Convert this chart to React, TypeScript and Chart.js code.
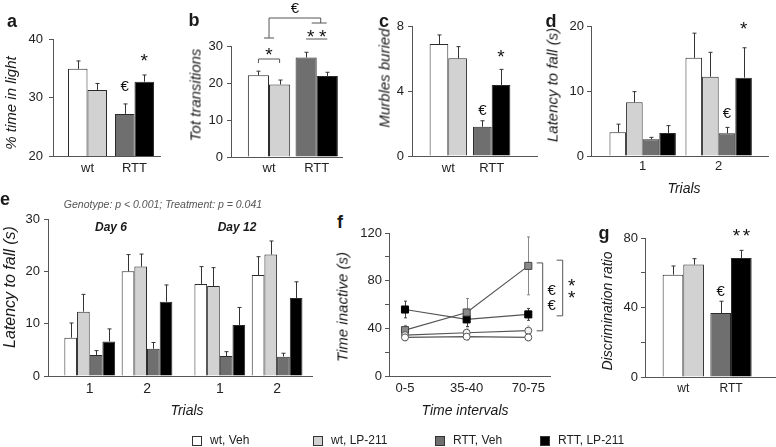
import React, { useEffect, useRef } from 'react';
import { Chart, registerables } from 'chart.js';

Chart.register(...registerables);

const FONT = '"Liberation Sans", Arial, Helvetica, sans-serif';
Chart.defaults.font.family = FONT;

// colours
const C_WT_VEH = '#ffffff';
const C_WT_LP = '#d2d2d2';
const C_RTT_VEH = '#6f6f6f';
const C_RTT_LP = '#000000';

// labels
const genotypes = ['wt', 'RTT'];
const trials = ['1', '2'];
const days = ['Day 6', 'Day 12'];
const intervals = ['0-5', '35-40', '70-75'];
const legendLabels = ['wt, Veh', 'wt, LP-211', 'RTT, Veh', 'RTT, LP-211'];

// panel a: % time in light  [wt, RTT]
const aVeh = [34.9, 27.2];
const aVehSem = [1.35, 1.7];
const aLP = [31.3, 32.7];
const aLPSem = [1.1, 1.15];

// panel b: total transitions
const bVeh = [22.1, 26.9];
const bVehSem = [1.1, 1.4];
const bLP = [19.6, 21.9];
const bLPSem = [1.2, 1.0];

// panel c: marbles buried
const cVeh = [6.89, 1.8];
const cVehSem = [0.56, 0.37];
const cLP = [6.01, 4.37];
const cLPSem = [0.72, 0.96];

// panel d: latency to fall, trials 1,2
const dWtVeh = [3.65, 15.1];
const dWtVehSem = [1.25, 3.8];
const dWtLP = [8.26, 12.2];
const dWtLPSem = [1.64, 3.75];
const dRttVeh = [2.56, 3.5];
const dRttVehSem = [0.31, 0.9];
const dRttLP = [3.54, 12.05];
const dRttLPSem = [1.13, 4.6];

// panel e: latency to fall, [Day6 T1, Day6 T2, Day12 T1, Day12 T2]
const eWtVeh = [7.33, 20.0, 17.6, 19.3];
const eWtVehSem = [2.8, 3.2, 3.3, 3.5];
const eWtLP = [12.3, 20.9, 17.2, 23.2];
const eWtLPSem = [3.3, 2.4, 3.5, 2.6];
const eRttVeh = [4.0, 5.2, 3.8, 3.7];
const eRttVehSem = [0.85, 1.2, 0.85, 0.65];
const eRttLP = [6.6, 14.2, 9.75, 14.9];
const eRttLPSem = [2.4, 3.2, 3.35, 3.1];

// panel f: time inactive over intervals
const fWtVeh = [32.4, 33.0, 32.4];
const fWtVehSem = [3, 3, 3];
const fWtLP = [34.3, 36.3, 38.0];
const fWtLPSem = [3, 4, 4];
const fRttVeh = [38.5, 53.3, 92.4];
const fRttVehSem = [4, 11.7, 24.3];
const fRttLP = [55.8, 47.5, 51.7];
const fRttLPSem = [7, 6, 5];

// panel g: discrimination ratio
const gVeh = [58.9, 36.8];
const gVehSem = [5.0, 6.8];
const gLP = [64.7, 68.5];
const gLPSem = [3.4, 4.4];

// ---------- drawing helpers ----------
const bx = (c: any, di: number, i: number) => c.getDatasetMeta(di).data[i].x;
const vy = (c: any, v: number) => c.scales.y.getPixelForValue(v);
const errTop = (c: any, di: number, i: number) => {
  const ds = c.data.datasets[di];
  return vy(c, ds.data[i].y + ds.sem[i]);
};
function glyph(ctx: any, s: string, x: number, cy: number, size: number, k: number) {
  ctx.save();
  ctx.font = `${size}px ${FONT}`;
  ctx.textAlign = 'center';
  ctx.textBaseline = 'alphabetic';
  ctx.fillStyle = '#111';
  ctx.fillText(s, x, cy + k * size);
  ctx.restore();
}
const star = (ctx: any, x: number, cy: number, size = 19) => glyph(ctx, '*', x, cy, size, 0.57);
const euro = (ctx: any, x: number, cy: number, size = 15) => glyph(ctx, '€', x, cy, size, 0.36);
function poly(ctx: any, pts: number[][], color = '#555') {
  ctx.save();
  ctx.strokeStyle = color;
  ctx.lineWidth = 1;
  ctx.beginPath();
  pts.forEach((p, i) => (i ? ctx.lineTo(p[0], p[1]) : ctx.moveTo(p[0], p[1])));
  ctx.stroke();
  ctx.restore();
}

const barErrPlugin = {
  id: 'barErr',
  afterDatasetsDraw(c: any) {
    const ctx = c.ctx;
    c.data.datasets.forEach((ds: any, di: number) => {
      const meta = c.getDatasetMeta(di);
      meta.data.forEach((el: any, i: number) => {
        const yT = vy(c, ds.data[i].y + ds.sem[i]);
        const x = Math.round(el.x) + 0.5;
        ctx.save();
        ctx.strokeStyle = '#333';
        ctx.lineWidth = 1;
        ctx.beginPath();
        ctx.moveTo(x, el.y);
        ctx.lineTo(x, yT);
        ctx.moveTo(x - 2, yT);
        ctx.lineTo(x + 2, yT);
        ctx.stroke();
        ctx.restore();
      });
    });
  },
};

const annot = (fn?: (c: any) => void) => ({
  id: 'annot',
  afterDatasetsDraw(c: any) {
    if (fn) fn(c);
  },
});

type Pad = { PL: number; PT: number; PR: number; PB: number };

function yScale(pad: Pad, min: number, max: number, step: number, labelStep: number, tickPad: number) {
  return {
    min,
    max,
    beginAtZero: false,
    grid: { display: true, drawOnChartArea: false, drawTicks: true, tickLength: 4, color: '#555' },
    border: { display: true, color: '#555', width: 1 },
    afterFit: (s: any) => {
      s.width = pad.PL;
    },
    ticks: {
      stepSize: step,
      padding: tickPad,
      color: '#222',
      font: { family: FONT, size: 13 },
      callback: (v: number) => (Math.abs(v % labelStep) < 1e-6 ? String(v) : ''),
    },
  };
}

function xScale(pad: Pad, positions: number[], labels: string[], min: number, max: number, tickPad: number, size = 13) {
  return {
    type: 'linear',
    min,
    max,
    offset: false,
    grid: { display: false, drawTicks: false, offset: false },
    border: { display: true, color: '#555', width: 1 },
    afterBuildTicks: (s: any) => {
      s.ticks = positions.map((v) => ({ value: v }));
    },
    afterFit: (s: any) => {
      s.height = pad.PB;
    },
    ticks: {
      autoSkip: false,
      maxRotation: 0,
      padding: tickPad,
      color: '#222',
      font: { family: FONT, size },
      callback: (_v: number, i: number) => labels[i],
    },
  };
}

const baseOptions = (pad: Pad) => ({
  animation: false,
  responsive: false,
  devicePixelRatio: 1,
  events: [],
  layout: { padding: { left: 0, top: pad.PT, right: pad.PR, bottom: 0 } },
  plugins: { legend: { display: false }, tooltip: { enabled: false }, title: { display: false } },
});

type Series = { values: number[]; sem: number[]; colors: string[] | string };

function barConfig(
  pad: Pad,
  p: {
    positions: number[];
    labels: string[];
    xMin: number;
    xMax: number;
    yMin: number;
    yMax: number;
    yStep: number;
    yLabelStep: number;
    yTickPad: number;
    xTickPad: number;
    xFont?: number;
    catPct: number;
    series: Series[];
    annotate?: (c: any) => void;
  }
): any {
  return {
    type: 'bar',
    data: {
      datasets: p.series.map((s) => ({
        data: p.positions.map((x, i) => ({ x, y: s.values[i] })),
        sem: s.sem,
        backgroundColor: s.colors,
        borderColor: '#2a2a2a',
        borderWidth: 1,
        categoryPercentage: p.catPct,
        barPercentage: 1,
      })),
    },
    options: {
      ...baseOptions(pad),
      scales: {
        x: xScale(pad, p.positions, p.labels, p.xMin, p.xMax, p.xTickPad, p.xFont || 13),
        y: yScale(pad, p.yMin, p.yMax, p.yStep, p.yLabelStep, p.yTickPad),
      },
    },
    plugins: [barErrPlugin, annot(p.annotate)],
  };
}

// ---------- panel configs ----------
const gIdx = genotypes.map((_, i) => i);
const tIdx = trials.map((_, i) => i);
const ePositions = days.flatMap((_, di) => trials.map((_, ti) => di * 2.27 + ti));
const eLabels = days.flatMap(() => trials);

const buildA = (pad: Pad) =>
  barConfig(pad, {
    positions: gIdx, labels: genotypes, xMin: -0.734, xMax: 1.543,
    yMin: 20, yMax: 40, yStep: 10, yLabelStep: 10, yTickPad: 6, xTickPad: 5, catPct: 0.83,
    series: [
      { values: aVeh, sem: aVehSem, colors: [C_WT_VEH, C_RTT_VEH] },
      { values: aLP, sem: aLPSem, colors: [C_WT_LP, C_RTT_LP] },
    ],
    annotate: (c) => {
      euro(c.ctx, bx(c, 0, 1), errTop(c, 0, 1) - 18.5);
      star(c.ctx, bx(c, 1, 1), errTop(c, 1, 1) - 18.5);
    },
  });

const buildB = (pad: Pad) =>
  barConfig(pad, {
    positions: gIdx, labels: genotypes, xMin: -0.797, xMax: 1.53,
    yMin: 0, yMax: 30, yStep: 5, yLabelStep: 10, yTickPad: 4, xTickPad: 4, catPct: 0.887,
    series: [
      { values: bVeh, sem: bVehSem, colors: [C_WT_VEH, C_RTT_VEH] },
      { values: bLP, sem: bLPSem, colors: [C_WT_LP, C_RTT_LP] },
    ],
    annotate: (c) => {
      const ctx = c.ctx;
      const top = c.chartArea.top;
      const xw = bx(c, 0, 0), xl = bx(c, 1, 0), xd = bx(c, 0, 1), xk = bx(c, 1, 1);
      poly(ctx, [[xw, top + 17], [xw, top + 13], [xl, top + 13], [xl, top + 17]]);
      star(ctx, (xw + xl) / 2, top + 4);
      poly(ctx, [[xd, top - 7], [xk, top - 7]]);
      star(ctx, (xd + xk) / 2 - 6, top - 14);
      star(ctx, (xd + xk) / 2 + 6, top - 14);
      const gL = (xw + xl) / 2, gR = (xd + xk) / 2 + 4;
      poly(ctx, [[gL, top - 8], [gL, top - 28], [gR, top - 28], [gR, top - 23]]);
      poly(ctx, [[gL - 5, top - 8], [gL + 5, top - 8]]);
      poly(ctx, [[gR - 9, top - 23], [gR + 6, top - 23]]);
      euro(ctx, (gL + gR) / 2, top - 38);
    },
  });

const buildC = (pad: Pad) =>
  barConfig(pad, {
    positions: gIdx, labels: genotypes, xMin: -0.836, xMax: 2.044,
    yMin: 0, yMax: 8, yStep: 4, yLabelStep: 4, yTickPad: 4, xTickPad: 5, catPct: 0.86,
    series: [
      { values: cVeh, sem: cVehSem, colors: [C_WT_VEH, C_RTT_VEH] },
      { values: cLP, sem: cLPSem, colors: [C_WT_LP, C_RTT_LP] },
    ],
    annotate: (c) => {
      euro(c.ctx, bx(c, 0, 1), errTop(c, 0, 1) - 11);
      star(c.ctx, bx(c, 1, 1), errTop(c, 1, 1) - 17);
    },
  });

const buildD = (pad: Pad) =>
  barConfig(pad, {
    positions: tIdx, labels: trials, xMin: -0.68, xMax: 1.649,
    yMin: 0, yMax: 20, yStep: 10, yLabelStep: 10, yTickPad: 3, xTickPad: 3, catPct: 0.874,
    series: [
      { values: dWtVeh, sem: dWtVehSem, colors: C_WT_VEH },
      { values: dWtLP, sem: dWtLPSem, colors: C_WT_LP },
      { values: dRttVeh, sem: dRttVehSem, colors: C_RTT_VEH },
      { values: dRttLP, sem: dRttLPSem, colors: C_RTT_LP },
    ],
    annotate: (c) => {
      euro(c.ctx, bx(c, 2, 1), errTop(c, 2, 1) - 15);
      star(c.ctx, bx(c, 3, 1), errTop(c, 3, 1) - 24);
    },
  });

const buildE = (pad: Pad) =>
  barConfig(pad, {
    positions: ePositions, labels: eLabels, xMin: -0.728, xMax: 3.879,
    yMin: 0, yMax: 30, yStep: 10, yLabelStep: 10, yTickPad: 4, xTickPad: 5, xFont: 14, catPct: 0.885,
    series: [
      { values: eWtVeh, sem: eWtVehSem, colors: C_WT_VEH },
      { values: eWtLP, sem: eWtLPSem, colors: C_WT_LP },
      { values: eRttVeh, sem: eRttVehSem, colors: C_RTT_VEH },
      { values: eRttLP, sem: eRttLPSem, colors: C_RTT_LP },
    ],
  });

const buildG = (pad: Pad) =>
  barConfig(pad, {
    positions: gIdx, labels: genotypes, xMin: -0.803, xMax: 1.943,
    yMin: 0, yMax: 80, yStep: 20, yLabelStep: 40, yTickPad: 3, xTickPad: 4, xFont: 12, catPct: 0.866,
    series: [
      { values: gVeh, sem: gVehSem, colors: [C_WT_VEH, C_RTT_VEH] },
      { values: gLP, sem: gLPSem, colors: [C_WT_LP, C_RTT_LP] },
    ],
    annotate: (c) => {
      euro(c.ctx, bx(c, 0, 1), errTop(c, 0, 1) - 11);
      const x = bx(c, 1, 1), y = errTop(c, 1, 1) - 19;
      star(c.ctx, x - 5, y);
      star(c.ctx, x + 5, y);
    },
  });

const fSeries = [
  { values: fWtVeh, sem: fWtVehSem, style: 'circle', fill: '#ffffff', stroke: '#555', r: 3.5, err: '#bbb' },
  { values: fWtLP, sem: fWtLPSem, style: 'circle', fill: '#f2f2f2', stroke: '#555', r: 3.5, err: '#bbb' },
  { values: fRttVeh, sem: fRttVehSem, style: 'rect', fill: '#8a8a8a', stroke: '#444', r: 5, err: '#888' },
  { values: fRttLP, sem: fRttLPSem, style: 'rect', fill: '#000000', stroke: '#000', r: 5, err: '#444' },
];

const lineErrPlugin = {
  id: 'lineErr',
  beforeDatasetsDraw(c: any) {
    const ctx = c.ctx;
    c.data.datasets.forEach((ds: any, di: number) => {
      const meta = c.getDatasetMeta(di);
      meta.data.forEach((el: any, i: number) => {
        const v = ds.data[i].y;
        const y1 = vy(c, v + ds.sem[i]);
        const y2 = vy(c, v - ds.sem[i]);
        const x = Math.round(el.x) + 0.5;
        ctx.save();
        ctx.strokeStyle = ds.errColor;
        ctx.lineWidth = 1;
        ctx.beginPath();
        ctx.moveTo(x, y1);
        ctx.lineTo(x, y2);
        ctx.moveTo(x - 1.5, y1);
        ctx.lineTo(x + 1.5, y1);
        ctx.moveTo(x - 1.5, y2);
        ctx.lineTo(x + 1.5, y2);
        ctx.stroke();
        ctx.restore();
      });
    });
  },
};

const buildF = (pad: Pad): any => {
  const positions = intervals.map((_, i) => i);
  return {
    type: 'line',
    data: {
      datasets: fSeries.map((s) => ({
        data: positions.map((x, i) => ({ x, y: s.values[i] })),
        sem: s.sem,
        errColor: s.err,
        borderColor: '#555',
        borderWidth: 1.2,
        pointStyle: s.style,
        pointRadius: s.r,
        pointBackgroundColor: s.fill,
        pointBorderColor: s.stroke,
        pointBorderWidth: 1,
        fill: false,
        tension: 0,
      })),
    },
    options: {
      ...baseOptions(pad),
      scales: {
        x: xScale(pad, positions, intervals, -0.2595, 2.352, 5),
        y: yScale(pad, 0, 120, 10, 40, 3),
      },
    },
    plugins: [
      lineErrPlugin,
      annot((c) => {
        const ctx = c.ctx;
        const x2 = c.scales.x.getPixelForValue(2);
        const b1 = x2 + 14.4, b2 = x2 + 34.4;
        poly(ctx, [[b1 - 6, vy(c, 94.9)], [b1, vy(c, 94.9)], [b1, vy(c, 37.9)], [b1 - 6, vy(c, 37.9)]]);
        poly(ctx, [[b2 - 6, vy(c, 97.2)], [b2, vy(c, 97.2)], [b2, vy(c, 50.5)], [b2 - 6, vy(c, 50.5)]]);
        euro(ctx, x2 + 23.4, vy(c, 72.6));
        euro(ctx, x2 + 23.4, vy(c, 60.1));
        star(ctx, x2 + 43.4, vy(c, 79.6));
        star(ctx, x2 + 43.4, vy(c, 69.3));
      }),
    ],
  };
};

// ---------- components ----------
function Panel(props: { L: number; T: number; R: number; B: number; pad: Pad; build: (p: Pad) => any }) {
  const { L, T, R, B, pad, build } = props;
  const ref = useRef<HTMLCanvasElement>(null);
  useEffect(() => {
    const chart = new Chart(ref.current as HTMLCanvasElement, build(pad));
    return () => chart.destroy();
  }, []);
  const w = R - L + pad.PL + pad.PR;
  const h = B - T + pad.PT + pad.PB;
  return (
    <canvas
      ref={ref}
      width={w}
      height={h}
      style={{ position: 'absolute', left: L - pad.PL, top: T - pad.PT, width: w, height: h }}
    />
  );
}

function Txt(props: {
  x: number; y: number; children: any; size?: number; italic?: boolean; bold?: boolean; rot?: boolean; color?: string;
}) {
  const { x, y, children, size = 15, italic = false, bold = false, rot = false, color = '#1a1a1a' } = props;
  return (
    <div
      style={{
        position: 'absolute', left: x, top: y,
        transform: `translate(-50%, -50%)${rot ? ' rotate(-90deg)' : ''}`,
        fontFamily: FONT, fontSize: size, fontStyle: italic ? 'italic' : 'normal',
        fontWeight: bold ? 'bold' : 'normal', color, whiteSpace: 'nowrap', lineHeight: 1,
      }}
    >
      {children}
    </div>
  );
}

const legendColors = [C_WT_VEH, C_WT_LP, C_RTT_VEH, C_RTT_LP];
const legendBoxX = [192, 313, 435, 540];
const legendTextX = [210, 331, 453, 558];

export default function App() {
  return (
    <div style={{ position: 'fixed', left: 0, top: 0, width: 776, height: 447, overflow: 'hidden', background: '#fff' }}>
      <Panel L={53} T={39} R={160} B={156} pad={{ PL: 45, PT: 25, PR: 10, PB: 30 }} build={buildA} />
      <Panel L={231} T={46} R={342} B={157} pad={{ PL: 40, PT: 45, PR: 10, PB: 30 }} build={buildB} />
      <Panel L={412} T={26} R={537} B={156} pad={{ PL: 40, PT: 20, PR: 8, PB: 30 }} build={buildC} />
      <Panel L={591} T={26} R={768} B={156} pad={{ PL: 35, PT: 20, PR: 8, PB: 30 }} build={buildD} />
      <Panel L={48} T={219} R={312} B={376} pad={{ PL: 40, PT: 12, PR: 10, PB: 30 }} build={buildE} />
      <Panel L={389} T={233} R={550} B={376} pad={{ PL: 40, PT: 15, PR: 35, PB: 30 }} build={buildF} />
      <Panel L={645} T={238} R={776} B={377} pad={{ PL: 40, PT: 20, PR: 0, PB: 30 }} build={buildG} />

      <Txt x={12} y={21} size={18} bold>a</Txt>
      <Txt x={194} y={20} size={18} bold>b</Txt>
      <Txt x={384} y={21} size={18} bold>c</Txt>
      <Txt x={551} y={21} size={18} bold>d</Txt>
      <Txt x={5} y={199} size={18} bold>e</Txt>
      <Txt x={340} y={222} size={18} bold>f</Txt>
      <Txt x={604} y={233} size={18} bold>g</Txt>

      <Txt x={10} y={103} italic rot>% time in light</Txt>
      <Txt x={195} y={95} italic rot>Tot transitions</Txt>
      <Txt x={384} y={78} italic rot>Murbles buried</Txt>
      <Txt x={552} y={85} italic rot>Latency to fall (s)</Txt>
      <Txt x={10} y={287} size={16} italic rot>Latency to fall (s)</Txt>
      <Txt x={342} y={307} italic rot>Time inactive (s)</Txt>
      <Txt x={607} y={311} size={14} italic rot>Discrimination ratio</Txt>

      <Txt x={684} y={188} size={14} italic>Trials</Txt>
      <Txt x={187} y={410} size={14} italic>Trials</Txt>
      <Txt x={465} y={410} size={14} italic>Time intervals</Txt>

      <Txt x={163} y={204} size={10.5} italic color="#555">Genotype: p &lt; 0.001; Treatment: p = 0.041</Txt>
      <Txt x={111} y={227} size={12} italic bold>{days[0]}</Txt>
      <Txt x={237} y={227} size={12} italic bold>{days[1]}</Txt>

      {legendLabels.map((lab, i) => (
        <React.Fragment key={lab}>
          <div
            style={{
              position: 'absolute', left: legendBoxX[i], top: 436, width: 8, height: 8,
              background: legendColors[i], border: '1px solid #333',
            }}
          />
          <div
            style={{
              position: 'absolute', left: legendTextX[i], top: 440, transform: 'translateY(-50%)',
              fontFamily: FONT, fontSize: 12, color: '#222', whiteSpace: 'nowrap', lineHeight: 1,
            }}
          >
            {lab}
          </div>
        </React.Fragment>
      ))}
    </div>
  );
}
